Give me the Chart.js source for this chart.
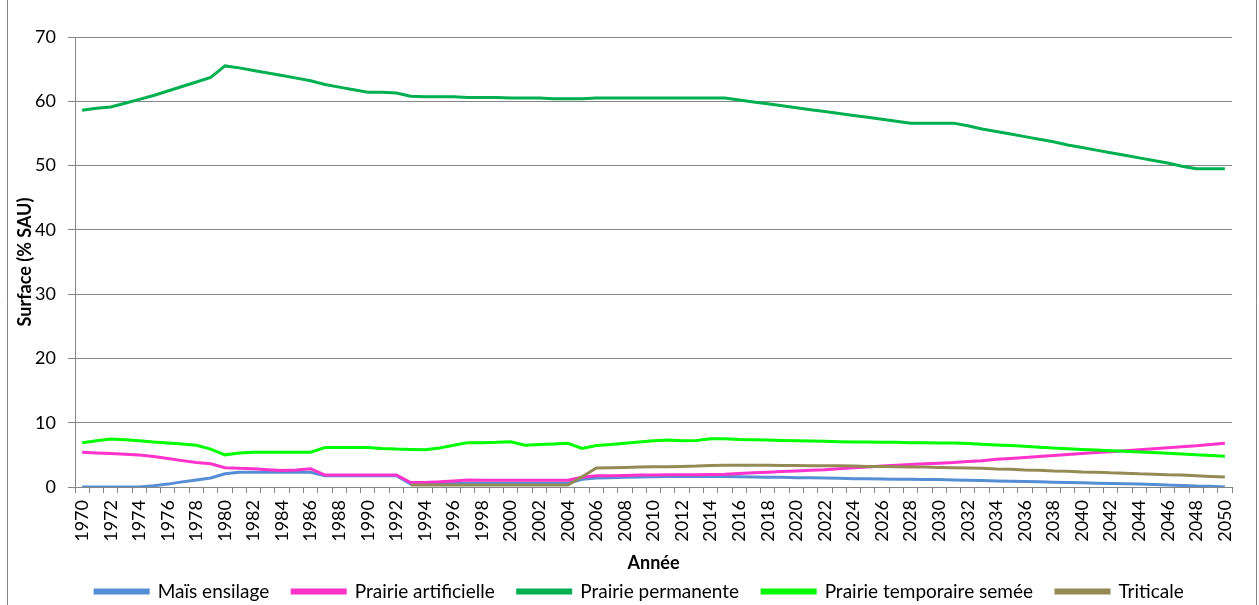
<!DOCTYPE html>
<html><head><meta charset="utf-8">
<script src="https://cdn.jsdelivr.net/npm/chart.js@4.4.1/dist/chart.umd.min.js"></script>
<style>html,body{margin:0;padding:0;background:#fff;}#wrap{width:1259px;height:605px;position:relative;}</style>
</head><body><div id="wrap"><canvas id="c" width="1259" height="605"></canvas></div>
<script>
const years = ["1970","1971","1972","1973","1974","1975","1976","1977","1978","1979","1980","1981","1982","1983","1984","1985","1986","1987","1988","1989","1990","1991","1992","1993","1994","1995","1996","1997","1998","1999","2000","2001","2002","2003","2004","2005","2006","2007","2008","2009","2010","2011","2012","2013","2014","2015","2016","2017","2018","2019","2020","2021","2022","2023","2024","2025","2026","2027","2028","2029","2030","2031","2032","2033","2034","2035","2036","2037","2038","2039","2040","2041","2042","2043","2044","2045","2046","2047","2048","2049","2050"];

const maisEnsilage = [0,0,0,0,0,0.2,0.45,0.8,1.1,1.4,2.05,2.3,2.3,2.3,2.3,2.3,2.3,1.75,1.75,1.75,1.75,1.75,1.75,0.45,0.45,0.5,0.55,0.6,0.6,0.6,0.6,0.6,0.6,0.6,0.6,1.2,1.4,1.45,1.5,1.55,1.6,1.65,1.65,1.65,1.65,1.65,1.6,1.55,1.5,1.5,1.45,1.45,1.4,1.35,1.3,1.3,1.25,1.2,1.2,1.15,1.15,1.1,1.05,1.0,0.95,0.9,0.85,0.8,0.75,0.7,0.65,0.6,0.55,0.5,0.45,0.4,0.3,0.25,0.15,0.1,0.0];

const prairieArtificielle = [5.4,5.3,5.2,5.1,4.97,4.75,4.45,4.1,3.8,3.6,3.0,2.9,2.85,2.7,2.55,2.65,2.85,1.85,1.85,1.85,1.85,1.85,1.85,0.7,0.7,0.8,0.95,1.1,1.05,1.05,1.05,1.05,1.05,1.05,1.05,1.5,1.75,1.75,1.8,1.85,1.85,1.9,1.9,1.9,1.95,2.0,2.1,2.2,2.3,2.4,2.5,2.6,2.7,2.85,3.0,3.1,3.25,3.4,3.5,3.6,3.7,3.8,3.95,4.1,4.3,4.45,4.6,4.75,4.9,5.05,5.2,5.35,5.5,5.65,5.8,5.95,6.1,6.25,6.4,6.6,6.8];

const prairiePermanente = [58.6,58.9,59.1,59.7,60.3,60.9,61.6,62.3,63.0,63.7,65.5,65.2,64.8,64.4,64.0,63.6,63.2,62.6,62.2,61.8,61.4,61.4,61.3,60.8,60.7,60.7,60.7,60.6,60.6,60.6,60.5,60.5,60.5,60.4,60.4,60.4,60.5,60.5,60.5,60.5,60.5,60.5,60.5,60.5,60.5,60.5,60.2,59.9,59.6,59.3,59.0,58.7,58.4,58.1,57.8,57.5,57.2,56.9,56.6,56.6,56.6,56.6,56.2,55.7,55.3,54.9,54.5,54.1,53.7,53.2,52.8,52.4,52.0,51.6,51.2,50.8,50.4,49.9,49.5,49.5,49.5];

const prairieTemporaire = [6.9,7.2,7.45,7.35,7.2,7.0,6.85,6.7,6.5,5.9,5.0,5.3,5.4,5.4,5.4,5.4,5.4,6.15,6.15,6.15,6.15,6.0,5.9,5.85,5.8,6.05,6.5,6.9,6.9,6.95,7.05,6.5,6.6,6.7,6.8,6.0,6.45,6.6,6.8,7.0,7.2,7.3,7.2,7.25,7.5,7.5,7.4,7.35,7.3,7.25,7.2,7.15,7.1,7.05,7.0,7.0,6.95,6.95,6.9,6.9,6.85,6.85,6.75,6.65,6.55,6.45,6.35,6.2,6.05,5.95,5.85,5.75,5.65,5.55,5.45,5.35,5.25,5.15,5.0,4.9,4.8];

const triticale = [null,null,null,null,null,null,null,null,null,null,null,null,null,null,null,null,null,null,null,null,null,null,null,0.3,0.3,0.3,0.3,0.3,0.3,0.3,0.3,0.3,0.3,0.3,0.3,1.6,2.95,3.0,3.05,3.1,3.15,3.15,3.2,3.25,3.35,3.4,3.4,3.4,3.4,3.35,3.35,3.3,3.3,3.3,3.25,3.2,3.2,3.15,3.1,3.1,3.05,3.0,2.95,2.9,2.8,2.75,2.65,2.6,2.5,2.45,2.35,2.3,2.2,2.15,2.05,2.0,1.9,1.85,1.75,1.65,1.55];

const seriesNames = ["Maïs ensilage","Prairie artificielle","Prairie permanente","Prairie temporaire semée","Triticale"];
const seriesColors = ["#558ED5","#FF33CC","#00B050","#00FF00","#948A54"];
const seriesData = [maisEnsilage, prairieArtificielle, prairiePermanente, prairieTemporaire, triticale];
const drawOrder = [5,4,3,2,1];
const yTicks = [0,10,20,30,40,50,60,70];
const yTitle = "Surface (% SAU)";
const xTitle = "Année";

const GRID = '#868686';
const FONT = 'Lato, "Liberation Sans", sans-serif';

const frame = {
  id: 'frame',
  beforeDraw(chart) {
    const ctx = chart.ctx;
    ctx.save();
    ctx.fillStyle = '#fff';
    ctx.fillRect(0, 0, chart.width, chart.height);
    ctx.strokeStyle = GRID;
    ctx.lineWidth = 1;
    ctx.beginPath();
    ctx.moveTo(7.5, 0); ctx.lineTo(7.5, chart.height);
    ctx.moveTo(1256.5, 0); ctx.lineTo(1256.5, chart.height);
    ctx.stroke();
    ctx.restore();
  },
  afterLayout(chart) {
    if (chart.legend) { chart.legend.left -= 14; chart.legend.right -= 14; }
  }
};

new Chart(document.getElementById('c'), {
  type: 'line',
  data: {
    labels: years,
    datasets: seriesNames.map((n, i) => ({
      label: n,
      data: seriesData[i],
      borderColor: seriesColors[i],
      backgroundColor: seriesColors[i],
      borderWidth: 3,
      pointRadius: 0,
      tension: 0,
      spanGaps: false,
      order: drawOrder[i]
    }))
  },
  options: {
    responsive: false,
    animation: false,
    devicePixelRatio: 1,
    layout: { padding: { left: 0, right: 27, top: 37, bottom: 0 } },
    plugins: {
      legend: {
        position: 'bottom',
        fullSize: false,
        maxHeight: 46,
        labels: {
          boxWidth: 53, boxHeight: 3, padding: 23,
          color: '#000',
          font: { family: FONT, size: 19 },
          sort: (a, b) => a.datasetIndex - b.datasetIndex
        }
      },
      tooltip: { enabled: false }
    },
    scales: {
      x: {
        type: 'category',
        offset: true,
        grid: { offset: true, drawOnChartArea: false, tickLength: 6, color: GRID, lineWidth: 1 },
        border: { color: GRID, width: 1 },
        ticks: {
          autoSkip: false, maxRotation: 90, minRotation: 90, padding: 7,
          color: '#000', font: { family: FONT, size: 18 },
          callback: function(v, i) { return i % 2 === 0 ? years[i] : ''; }
        },
        title: { display: true, text: xTitle, color: '#000', font: { family: FONT, size: 18, weight: 'bold' }, padding: { top: 0, bottom: -15 } },
        afterFit: s => { s.height = 72; }
      },
      y: {
        min: 0, max: 70,
        afterBuildTicks: s => { s.ticks = yTicks.map(v => ({ value: v })); },
        grid: { color: GRID, tickLength: 7, lineWidth: 1 },
        border: { color: GRID, width: 1 },
        ticks: { padding: 12, color: '#000', font: { family: FONT, size: 18 } },
        title: { display: true, text: yTitle, color: '#000', font: { family: FONT, size: 18, weight: 'bold' }, padding: { top: 14, bottom: 0 } },
        afterFit: s => { s.width = 75; }
      }
    }
  },
  plugins: [frame]
});
</script></body></html>
